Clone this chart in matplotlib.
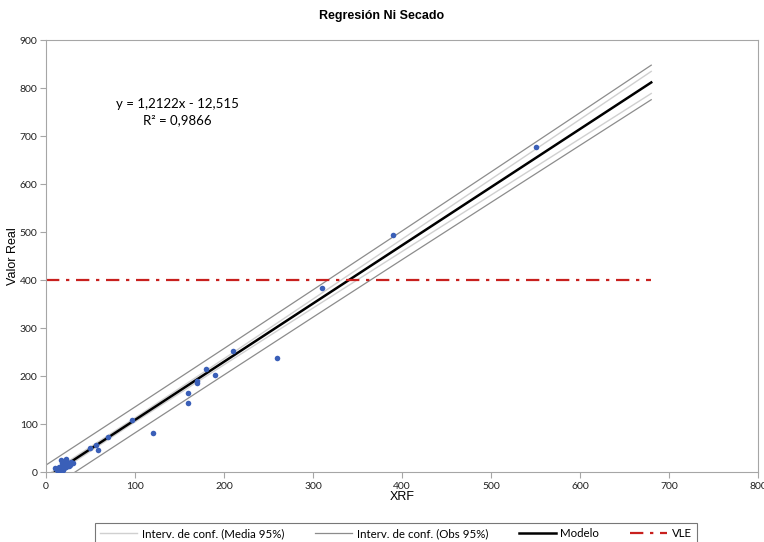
import matplotlib
matplotlib.use('Agg')
import matplotlib.pyplot as plt
import numpy as np

# puntos medidos (XRF vs valor real)
xrf = [550, 390, 310, 260, 210, 190, 180, 170, 170, 160, 160, 120, 97, 70,
       58, 56, 50, 10, 12, 15, 17, 18, 20, 20, 22, 22, 24, 25, 26, 28, 30,
       15, 18, 21, 19, 23, 27]
real = [678, 493, 383, 238, 252, 202, 214, 190, 186, 165, 143, 82, 108, 74,
        46, 56, 50, 8, 5, 10, 25, 12, 20, 8, 27, 15, 22, 18, 12, 20, 18,
        3, 18, 24, 5, 10, 14]

# lineas de regresion
band_x = [0, 100, 200, 300, 400, 500, 600, 680]
modelo = [-12.5, 108.7, 229.9, 351.2, 472.4, 593.6, 714.8, 811.8]
obs_sup = [14.6, 135.7, 257.4, 379.7, 502.3, 625.4, 748.8, 847.8]
obs_inf = [-39.6, 81.7, 202.4, 322.7, 442.5, 561.8, 680.8, 775.8]
media_sup = [-7.7, 112.9, 236.2, 360.6, 485.3, 610.1, 734.9, 834.8]
media_inf = [-17.3, 104.5, 223.6, 341.8, 459.5, 577.1, 694.7, 788.8]

vle_x = [0, 680]
vle_y = [400, 400]

fig = plt.figure(figsize=(7.64, 5.42), dpi=100)
ax = fig.add_axes([0.0602, 0.129, 0.932, 0.797])

ax.plot(band_x, media_sup, color='#d0d0d0', lw=1.0, label='Interv. de conf. (Media 95%)')
ax.plot(band_x, media_inf, color='#d0d0d0', lw=1.0)
ax.plot(band_x, obs_sup, color='#8c8c8c', lw=0.9, label='Interv. de conf. (Obs 95%)')
ax.plot(band_x, obs_inf, color='#8c8c8c', lw=0.9)
ax.plot(band_x, modelo, color='black', lw=1.8, label='Modelo')
ax.plot(vle_x, vle_y, color='#c8201e', lw=1.6, dashes=(6, 3, 1.5, 3), label='VLE')
ax.scatter(xrf, real, s=16, color='#3a5fb8', zorder=5, linewidths=0)

ax.set_xlim(0, 800)
ax.set_ylim(0, 900)
ax.set_xticks(range(0, 801, 100))
ax.set_yticks(range(0, 901, 100))
for s in ax.spines.values():
    s.set_color('#a6a6a6')
ax.tick_params(colors='#a6a6a6', labelcolor='#222222', length=4, labelsize=7.5)
ax.tick_params(axis='y', pad=2)
for lab in ax.get_xticklabels() + ax.get_yticklabels():
    lab.set_family('Lato')

# etiquetas de ejes y titulo
fig.text(0.5 * (46 + 758) / 764, 1 - 497 / 542, 'XRF', ha='center', va='center',
         family='Liberation Sans', fontsize=9)
fig.text(13 / 764, 1 - 256 / 542, 'Valor Real', ha='center', va='center', rotation=90,
         family='Liberation Sans', fontsize=9)
fig.text(0.5, 0.97, 'Regresión Ni Secado', ha='center', va='center',
         family='Liberation Sans', fontweight='bold', fontsize=9)

ax.text(148, 750, 'y = 1,2122x - 12,515\nR² = 0,9866', ha='center', va='center',
        family='Lato', fontsize=9.5, linespacing=1.35)

leg = fig.legend(loc='upper left', mode='expand',
                 bbox_to_anchor=(95 / 764, 1 - 523 / 542, 602 / 764, 0.0), ncol=4,
                 frameon=True, fancybox=False, prop={'family': 'Lato', 'size': 8.3},
                 handlelength=3.2, handletextpad=0.4, borderpad=0.45, borderaxespad=0)
leg.get_frame().set_edgecolor('#555555')
leg.get_frame().set_linewidth(0.8)

fig.savefig('out.png', dpi=100)
